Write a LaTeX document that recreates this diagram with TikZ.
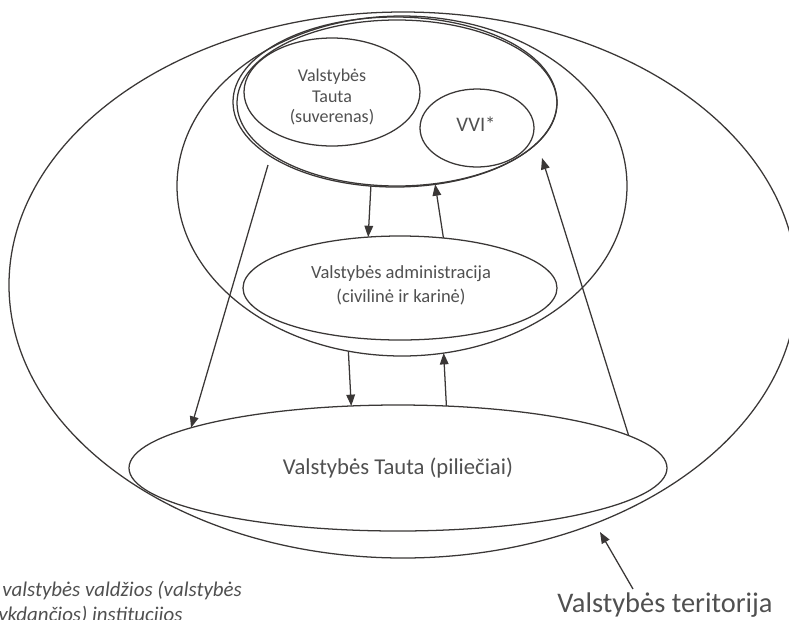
\documentclass[tikz,border=0pt]{standalone}
\usepackage{fontspec}
\setmainfont{Carlito}
\usetikzlibrary{shapes.geometric,arrows.meta,calc}
\definecolor{ln}{HTML}{3A3736}
\definecolor{tx}{HTML}{505050}
\begin{document}
\begin{tikzpicture}[x=0.75pt,y=-0.75pt,
  ell/.style 2 args={draw=ln, line width=0.95pt, ellipse, inner sep=0pt, outer sep=0pt,
    minimum width=#1*0.75pt, minimum height=#2*0.75pt},
  arr/.style={draw=ln, line width=0.95pt, -{Triangle[length=8.5pt,width=6.5pt]}},
  lbl/.style={text=tx, inner sep=0pt, anchor=base}]
\useasboundingbox (0,0) rectangle (789,619);
\clip (0,0) rectangle (789,619);
% ellipses
\node[ell={788}{546}] (terr) at (403,285) {};
\node[ell={450}{340}] (power) at (402,186) {};
\node[ell={324}{170}] (vald) at (395,102) {};
\node[ell={320}{166}] (vald2) at (397,103) {};
\node[ell={176}{108}] (tauta) at (332,92) {};
\node[ell={114}{78}] (vvi) at (477,128) {};
\node[ell={314}{104}] (admin) at (400,288) {};
\node[ell={538}{126}] (cit) at (398,468) {};
% texts
\node[lbl, font=\fontsize{13.5}{16}\selectfont] (tautaA) at (332,81) {Valstybės};
\node[lbl, font=\fontsize{13.5}{16}\selectfont] (tautaB) at (332,102) {Tauta};
\node[lbl, font=\fontsize{13.5}{16}\selectfont] (tautaC) at (332,122) {(suverenas)};
\node[lbl, font=\fontsize{15.5}{18}\selectfont] (vviT) at (476,131) {VVI*};
\node[lbl, font=\fontsize{13.9}{17}\selectfont] (adminA) at (401,278) {Valstybės administracija};
\node[lbl, font=\fontsize{13.9}{17}\selectfont] (adminB) at (401,302) {(civilinė ir karinė)};
\node[lbl, font=\fontsize{17}{20}\selectfont] (citT) at (398,474) {Valstybės Tauta (piliečiai)};
\node[lbl, font=\fontsize{21.3}{25}\selectfont] (terT) at (665,612) {Valstybės teritorija};
\node[lbl, anchor=base west, font=\fontsize{15.7}{19}\selectfont\itshape] (noteA) at (2,596) {valstybės valdžios (valstybės};
\node[lbl, anchor=base west, font=\fontsize{15.7}{19}\selectfont\itshape] (noteB) at (-2,621) {ykdančios) institucijos};
% connectors
\coordinate (a1s) at (268,165);
\coordinate (a6e) at (542,158);
\coordinate (a7e) at (600,532);
\draw[arr] (a1s) -- (cit.169.4);
\draw[arr] (vald.254.7) -- (admin.122.4);
\draw[arr] (admin.49.3) -- (vald.296.6);
\draw[arr] (power.252.9) -- (cit.127.7);
\draw[arr] (cit.52.3) -- (power.284.4);
\draw[arr] (cit.8.1) -- (a6e);
\draw[arr] ($(terT.north)+(-32,-3)$) -- (a7e);
\end{tikzpicture}
\end{document}
